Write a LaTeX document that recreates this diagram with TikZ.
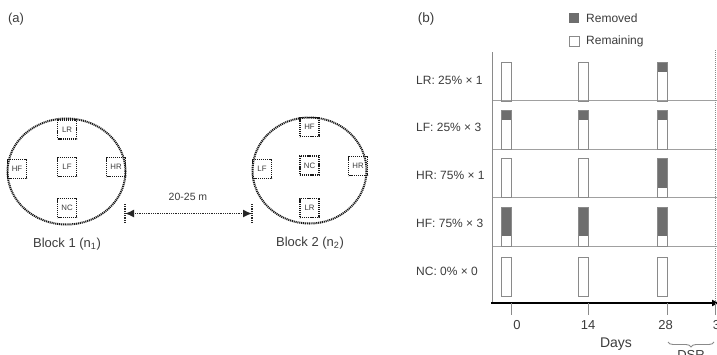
\documentclass[tikz,border=0pt]{standalone}
\usepackage{fontspec}
\setmainfont{Liberation Sans}
\usetikzlibrary{arrows.meta,shapes.geometric,decorations.pathreplacing}
\definecolor{txt}{HTML}{3C3C3C}
\definecolor{rem}{HTML}{6E6E6E}
\definecolor{edge}{HTML}{8A8A8A}
\definecolor{sep}{HTML}{A0A0A0}
\newcommand{\fs}[1]{\fontsize{#1}{#1}\selectfont}
\begin{document}
\begin{tikzpicture}[x=1pt,y=-1pt,
  every node/.style={text=txt},
  dotline/.style={draw=black!90, line width=2pt, dash pattern=on 1.1pt off 0.8pt},
  plotarea/.style={ellipse, dotline, inner sep=0pt},
  plotsq/.style={rectangle, dotline, line width=1.8pt, minimum size=19pt, inner sep=0pt, font=\fs{7.8}},
  lbl/.style={font=\fs{13}},
  rowlbl/.style={anchor=west, font=\fs{12}, inner sep=0pt},
  ticklbl/.style={font=\fs{13}, inner sep=0pt},
  barbox/.style={draw=edge, line width=0.8pt},
  endbar/.style={draw=black!85, line width=1.2pt, dash pattern=on 1pt off 0.8pt},
]
\useasboundingbox (0,0) rectangle (717,354);
\clip (0,0) rectangle (717,354);

% ---------- panel (a) ----------
\node[lbl] (la) at (16,19) {(a)};

\node[plotarea, minimum width=118pt, minimum height=106pt] (blk1) at (66.5,171.5) {};
\node[plotsq] (b1LR) at (67,129.5) {LR};
\node[plotsq] (b1LF) at (67,167) {LF};
\node[plotsq] (b1HF) at (17,169) {HF};
\node[plotsq] (b1HR) at (116,167) {HR};
\node[plotsq] (b1NC) at (67,208) {NC};
\node[lbl] (blk1lbl) at (67,244) {Block 1 (n\textsubscript{1})};

\node[plotarea, minimum width=114pt, minimum height=106pt] (blk2) at (309.5,170.5) {};
\node[plotsq] (b2HF) at (309.5,127) {HF};
\node[plotsq] (b2LF) at (262,169) {LF};
\node[plotsq] (b2NC) at (309.5,165.5) {NC};
\node[plotsq] (b2HR) at (358,166) {HR};
\node[plotsq] (b2LR) at (309.5,208) {LR};
\node[lbl] (blk2lbl) at (310,243) {Block 2 (n\textsubscript{2})};

\coordinate (aL) at (125,213.5);
\coordinate (aR) at (252,213.5);
\draw[endbar] ([yshift=-9.5pt]aL) -- ([yshift=9.5pt]aL);
\draw[endbar] ([yshift=-9.5pt]aR) -- ([yshift=9.5pt]aR);
\draw[draw=black!85, line width=1.5pt, dash pattern=on 1pt off 0.8pt,
  {Latex[length=9pt,width=8pt]}-{Latex[length=9pt,width=8pt]}] (aL) -- (aR);
\node[font=\fs{10.5}] (dist) at (188,197) {20-25 m};

% ---------- panel (b) ----------
\node[lbl, font=\fs{13.5}] (lb) at (426,19) {(b)};

\fill[rem] (569,13) rectangle (579,23);
\node[anchor=west, font=\fs{12}, inner sep=0pt] (lgR) at (586,18) {Removed};
\draw[barbox, fill=white] (569,36) rectangle (579,46);
\node[anchor=west, font=\fs{12}, inner sep=0pt] (lgM) at (586,41) {Remaining};

% separators
\foreach \y in {100,149,197,246} \draw[sep, line width=0.9pt] (492,\y) -- (717,\y);
% dotted day-35 line
\draw[edge, line width=0.8pt, dash pattern=on 1pt off 1pt] (715,50) -- (715,303);

% bars
\foreach \top/\ra/\rb/\rc in {62/0/0/10, 110/10/10/10, 158/0/0/30, 207/29/29/29, 257/0/0/0} {
  \foreach \xl/\r in {501/\ra, 578/\rb, 657/\rc} {
    \fill[rem] (\xl,\top) rectangle ++(10,\r);
    \draw[barbox] (\xl,\top) rectangle ++(10,39);
  }
}

% row labels
\node[rowlbl] (rLR) at (416,80) {LR: 25\% × 1};
\node[rowlbl] (rLF) at (416,127.5) {LF: 25\% × 3};
\node[rowlbl] (rHR) at (416,175.5) {HR: 75\% × 1};
\node[rowlbl] (rHF) at (416,223) {HF: 75\% × 3};
\node[rowlbl] (rNC) at (416,271.5) {NC: 0\% × 0};

% axes
\coordinate (ytop) at (492,52);
\coordinate (orig) at (492,303);
\coordinate (xend) at (720,303);
\draw[edge, line width=0.9pt] (ytop) -- (orig);
\draw[black, line width=1.8pt, -{Latex[length=8pt,width=7pt]}] ([xshift=-1pt]orig) -- (xend);

% ticks
\foreach \x in {511,588,667,715} \draw[edge, line width=0.9pt] (\x,303) -- (\x,315);
\node[ticklbl] (t0) at (517,325) {0};
\node[ticklbl] (t14) at (588,325) {14};
\node[ticklbl] (t28) at (665.5,325) {28};
\node[ticklbl] (t35) at (720,325) {35};
\node[font=\fs{14}] (days) at (616,344) {Days};

\coordinate (brL) at (668,342);
\coordinate (brR) at (714,342);
\draw[edge, line width=0.9pt, decorate, decoration={brace, mirror, amplitude=5pt}] (brL) -- (brR);
\node[anchor=north, font=\fs{13}, inner sep=0pt] (dsr) at (691,350) {DSR};
\end{tikzpicture}
\end{document}
